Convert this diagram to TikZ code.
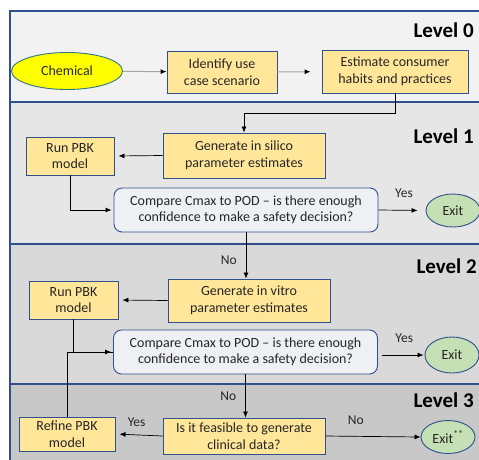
\documentclass[tikz,border=0pt]{standalone}
\usepackage{fontspec}
\setmainfont{Carlito}
\usetikzlibrary{arrows.meta,shapes.geometric,calc}
\definecolor{pborder}{HTML}{2F4F8F}
\definecolor{boxfill}{HTML}{FFE699}
\definecolor{boxdraw}{HTML}{2F4F8F}
\definecolor{Lzero}{HTML}{F2F2F2}
\definecolor{Lone}{HTML}{E6E6E6}
\definecolor{Ltwo}{HTML}{D9D9D9}
\definecolor{Lthree}{HTML}{C8C8C8}
\definecolor{cmpfill}{HTML}{EEF0F3}
\definecolor{exitfill}{HTML}{C5E0B4}
\definecolor{chemfill}{HTML}{FFFF00}
\definecolor{chemdraw}{HTML}{2E7580}
\definecolor{garr}{HTML}{A6A6A6}
\definecolor{tcol}{HTML}{262626}
\tikzset{
  txt/.style={font=\fontsize{14}{16.5}\selectfont, text=tcol, align=center, inner sep=1pt},
  ybox/.style={txt, draw=boxdraw, fill=boxfill, line width=0.9pt},
  cmpbox/.style={txt, draw=boxdraw, fill=cmpfill, line width=0.9pt, rounded corners=8pt, minimum width=264pt, minimum height=44pt},
  exitnode/.style={txt, ellipse, draw=boxdraw, fill=exitfill, line width=0.9pt, inner sep=0pt},
  panel/.style={draw=pborder, line width=1.2pt},
  lvl/.style={font=\fontsize{21}{24}\selectfont\bfseries, anchor=east, inner sep=0pt},
  arr/.style={draw=black, line width=0.7pt, -{Latex[length=6pt,width=5pt]}},
  garrow/.style={draw=garr, line width=1pt, -{Latex[length=6pt,width=5pt,color=black]}},
  lbl/.style={font=\fontsize{13.5}{15}\selectfont, text=tcol, inner sep=1pt}
}
\begin{document}
\begin{tikzpicture}[x=1pt,y=-1pt]
\useasboundingbox (0,0) rectangle (479,459);
\clip (0,0) rectangle (479,459);
% panels
\path[panel, fill=Lzero] (10,11) rectangle (495,102);
\path[panel, fill=Lone] (10,102) rectangle (495,244);
\path[panel, fill=Ltwo] (10,244) rectangle (495,384);
\path[panel, fill=Lthree] (10,384) rectangle (495,470);
\draw[pborder, line width=1.8pt] (10,102) -- (495,102);
% level labels
\node[lvl] (l0) at (474,30) {Level 0};
\node[lvl] (l1) at (474,136) {Level 1};
\node[lvl] (l2) at (477,266) {Level 2};
\node[lvl] (l3) at (474,400) {Level 3};
% level 0
\node[txt, ellipse, draw=chemdraw, fill=chemfill, line width=0.9pt, minimum width=111pt, minimum height=37pt, inner sep=0pt] (chem) at (67,71) {Chemical};
\node[ybox, minimum width=110pt, minimum height=42pt] (ident) at (222,72) {Identify use\\case scenario};
\node[ybox, minimum width=146pt, minimum height=43pt] (est) at (395,71.5) {Estimate consumer\\habits and practices};
\draw[garrow] (chem) -- (ident);
\draw[garrow, shorten >=11pt] (ident) -- (est);
% level 1
\node[ybox, minimum width=162pt, minimum height=45pt] (gs) at (244,155.5) {Generate in silico\\parameter estimates};
\node[ybox, minimum width=88pt, minimum height=38pt] (run1) at (70,156) {Run PBK\\model};
\node[cmpbox] (cmp1) at (246,210) {Compare Cmax to POD -- is there enough\\confidence to make a safety decision?};
\node[exitnode, minimum width=54pt, minimum height=33pt] (exit1) at (453,210.5) {Exit};
\draw[arr] (est.south) -- ++(0,20) -| (gs.north);
\draw[arr, shorten >=4pt] (gs.west) -- (run1.east);
\draw[arr, shorten >=2pt] (run1.south) |- (cmp1.west);
\draw[arr, shorten >=8pt] (cmp1.east) -- (exit1.west) node[lbl, midway, above=11pt, xshift=2pt] (y1) {Yes};
% level 2
\node[ybox, minimum width=162pt, minimum height=43pt] (gv) at (249,300.5) {Generate in vitro\\parameter estimates};
\node[ybox, minimum width=89pt, minimum height=38pt] (run2) at (73.5,300) {Run PBK\\model};
\node[cmpbox] (cmp2) at (245.5,352) {Compare Cmax to POD -- is there enough\\confidence to make a safety decision?};
\node[exitnode, minimum width=54pt, minimum height=36pt] (exit2) at (452,355) {Exit};
\draw[arr] (cmp1.south) -- (cmp1.south |- gv.north) node[lbl, pos=0.6, left=8pt] (n1) {No};
\draw[arr, shorten >=4pt] (gv.west) -- (run2.east);
\draw[arr, shorten >=2pt] (run2.south) |- (cmp2.west);
\draw[arr, shorten >=1pt, shorten <=4pt] (cmp2.east |- exit2.west) -- (exit2.west) node[lbl, midway, above=11pt, xshift=3pt] (y2) {Yes};
% level 3
\node[ybox, minimum width=162pt, minimum height=36pt] (feas) at (244,436) {Is it feasible to generate\\clinical data?};
\node[ybox, minimum width=96pt, minimum height=34pt] (ref) at (67,434) {Refine PBK\\model};
\node[exitnode, minimum width=54pt, minimum height=33pt] (exit3) at (448,437) {Exit\textsuperscript{**}};
\draw[arr] (cmp2.south) -- (cmp2.south |- feas.north) node[lbl, pos=0.5, left=8pt] (n2) {No};
\draw[line width=0.7pt] (ref.north) |- (cmp2.west);
\draw[arr, shorten >=4pt] (feas.west) -- (ref.east) node[lbl, pos=0.55, above=7pt] (y3) {Yes};
\draw[arr] (feas.east) -- (exit3.west) node[lbl, pos=0.32, above=10pt] (n3) {No};
\end{tikzpicture}
\end{document}
